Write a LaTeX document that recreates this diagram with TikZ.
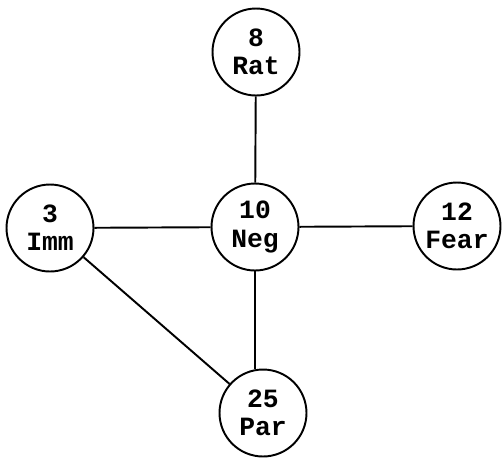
\documentclass[tikz,border=0pt]{standalone}
\usepackage{fontspec}
\setmonofont{Liberation Mono}
\begin{document}
\begin{tikzpicture}[x=0.02cm,y=-0.02cm,
  cnode/.style={circle,draw,line width=1.1pt,minimum size=1.74cm,inner sep=0pt,
    align=center,font=\ttfamily\bfseries\fontsize{15}{16}\selectfont},
  edge/.style={line width=1.1pt}]
\useasboundingbox (0,0) rectangle (504,458);
\node[cnode] (rat) at (256,52) {8\\Rat};
\node[cnode] (neg) at (255,227) {10\\Neg};
\node[cnode] (fear) at (457,226) {12\\Fear};
\node[cnode] (imm) at (50,228) {3\\Imm};
\node[cnode] (par) at (263,413) {25\\Par};
\draw[edge] (rat) -- (neg);
\draw[edge] (imm) -- (neg);
\draw[edge] (neg) -- (fear);
\draw[edge] (neg.south) -- (neg.south |- par.north);
\draw[edge] (imm) -- (par);
\end{tikzpicture}
\end{document}
